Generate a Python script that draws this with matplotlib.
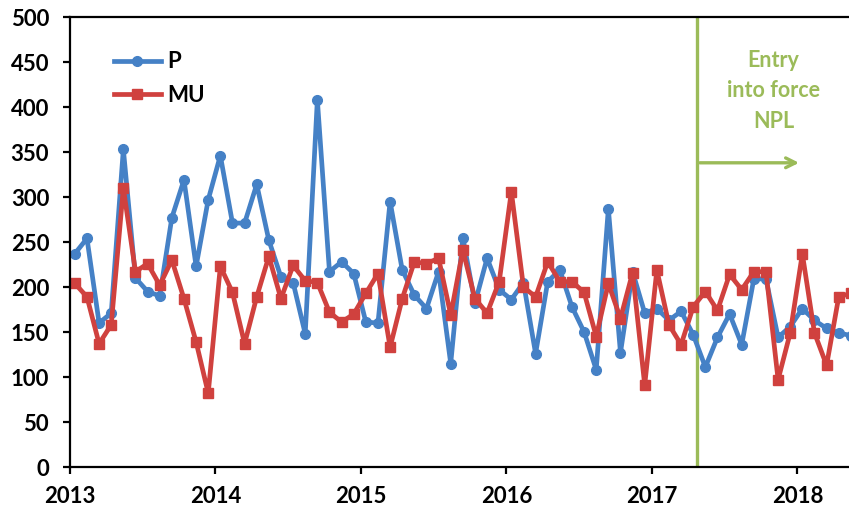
import numpy as np
import matplotlib
matplotlib.use('Agg')
from matplotlib import pyplot as plt

plt.rcParams['font.family'] = ['Lato', 'DejaVu Sans']
plt.rcParams['font.weight'] = 'bold'

# Data: monthly values, Jan 2013 - May 2018
P = [237, 254, 160, 171, 353, 210, 195, 190, 277, 319, 223, 297,
     346, 271, 271, 314, 252, 211, 205, 148, 408, 217, 228, 215,
     161, 160, 295, 219, 191, 176, 217, 115, 255, 182, 232, 197,
     186, 205, 126, 206, 219, 178, 150, 108, 287, 127, 217, 171,
     176, 163, 173, 147, 111, 144, 170, 136, 209, 209, 144, 156,
     176, 163, 154, 149, 146]
MU = [204, 189, 137, 158, 310, 217, 226, 202, 230, 187, 139, 82,
      223, 194, 137, 189, 234, 187, 224, 207, 205, 172, 161, 170,
      193, 215, 133, 187, 228, 226, 232, 169, 241, 187, 171, 206,
      306, 200, 189, 228, 206, 206, 194, 145, 204, 165, 216, 91,
      219, 158, 136, 178, 195, 174, 214, 197, 217, 217, 97, 149,
      237, 149, 113, 189, 193]
years = [2013, 2014, 2015, 2016, 2017, 2018]
npl_date = 2017.31  # entry into force of the NPL

months = np.arange(len(P))
x = 2013 + (months + 0.4) / 12

blue = '#4581C6'
red = '#D0413E'
green = '#9BBB59'

#Plotting
fig = plt.figure(figsize=(8.49, 5.11), dpi=100)
ax = fig.add_axes([70 / 849, 44 / 511, 779 / 849, 450 / 511])

ax.plot(x, P, color=blue, lw=3.4, marker='o', ms=7, label='P')
ax.plot(x, MU, color=red, lw=3.4, marker='s', ms=7, label='MU')

ax.axvline(npl_date, color=green, lw=2.4, zorder=1)
ax.annotate('', xy=(2018.03, 338), xytext=(npl_date, 338),
            arrowprops=dict(arrowstyle='->,head_length=0.7,head_width=0.35',
                            color=green, lw=2.4))
ax.text(2017.835, 418, 'Entry\ninto force\nNPL', color=green, fontsize=15.5,
        fontweight='bold', ha='center', va='center', linespacing=1.55)

ax.set_xlim(2013, 2018.354)
ax.set_ylim(0, 500)
ax.set_xticks(years)
ax.set_xticklabels([str(y) for y in years])
ax.set_yticks(np.arange(0, 501, 50))

for s in ['left', 'bottom', 'top']:
    ax.spines[s].set_linewidth(1.6)
ax.spines['right'].set_visible(False)
ax.tick_params(axis='both', direction='out', length=5, width=1.6,
               labelsize=16)
ax.tick_params(axis='y', pad=10)
ax.tick_params(axis='x', pad=9)

ax.legend(loc='upper left', frameon=False, handlelength=2.1,
          handletextpad=0.3, labelspacing=0.55, bbox_to_anchor=(0.031, 0.968),
          prop={'weight': 'bold', 'size': 16})

fig.savefig('out.png', dpi=100)
